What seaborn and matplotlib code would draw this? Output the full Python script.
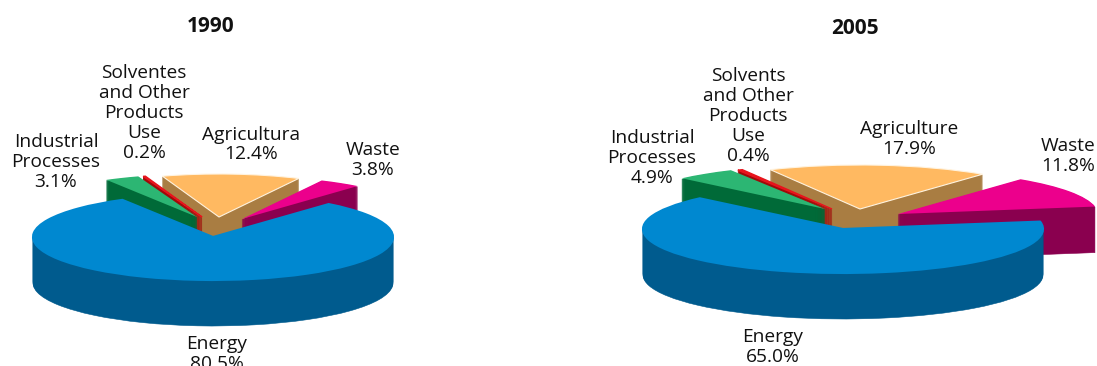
import matplotlib
matplotlib.use("Agg")
import matplotlib.pyplot as plt
from matplotlib.patches import Wedge
import seaborn as sns

# Emission shares in percent, listed counter-clockwise from the agriculture slice
sectors = ["Agriculture", "Solvents", "Industrial", "Energy", "Waste"]
shares_1990 = [12.4, 0.2, 3.1, 80.5, 3.8]
shares_2005 = [17.9, 0.4, 4.9, 65.0, 11.8]

labels_1990 = ["Agricultura\n12.4%", "Solventes\nand Other\nProducts\nUse\n0.2%",
               "Industrial\nProcesses\n3.1%", "Energy\n80.5%", "Waste\n3.8%"]
labels_2005 = ["Agriculture\n17.9%", "Solvents\nand Other\nProducts\nUse\n0.4%",
               "Industrial\nProcesses\n4.9%", "Energy\n65.0%", "Waste\n11.8%"]

top_colors = sns.color_palette(["#ffb961", "#e8141c", "#2cb673", "#0088d0", "#ec008c"])
side_colors = sns.color_palette(["#a97d42", "#a00a0a", "#006a38", "#005b8e", "#8a004f"])

W, H = 1097, 366
DEPTH = 46
DRAW_ORDER = [0, 1, 2, 4, 3]

sns.set_theme(style="white")
plt.rcParams["font.family"] = ["Open Sans", "DejaVu Sans"]
fig = plt.figure(figsize=(W / 100, H / 100), dpi=100, facecolor="white")


def tilted_pie(values, cx, cy, rx, ry, start, offsets):
    """Flattened pie with an extruded rim; each slice is pulled out by a pixel offset."""
    ax = fig.add_axes([0, 0, 1, 1], facecolor="none")
    wedges, _ = ax.pie(values, colors=top_colors, startangle=start, radius=1,
                       counterclock=True, wedgeprops={"linewidth": 0})
    ax.set_aspect("auto")
    ax.set_xlim(-cx / rx, (W - cx) / rx)
    ax.set_ylim(-(H - cy) / ry, cy / ry)
    ax.set_axis_off()
    z = 2
    for i in DRAW_ORDER:
        w = wedges[i]
        dx, dy = offsets[i]
        ox, oy = dx / rx, dy / ry
        for step in range(DEPTH, 0, -1):
            ax.add_patch(Wedge((ox, oy - step / ry), 1, w.theta1, w.theta2,
                               facecolor=side_colors[i], edgecolor=side_colors[i],
                               linewidth=0.4, zorder=z))
        w.set_center((ox, oy))
        w.set_zorder(z + 1)
        if i == 0:
            w.set_edgecolor("#fff3df")
            w.set_linewidth(0.8)
        if i == 1:
            w.set_edgecolor(top_colors[1])
            w.set_linewidth(1.0)
        if i == 3:
            # soften the energy slice's corners
            w.set_edgecolor(top_colors[3])
            w.set_linewidth(1.5)
            w.set_joinstyle("round")
        z += 2
    return ax


tilted_pie(shares_1990, 213, 237, 180, 43, 63.7,
           [(6, 20), (-11, 20), (-16, 20), (0, 0), (29, 18)])
tilted_pie(shares_2005, 843, 229, 200, 44, 52.2,
           [(17, 20), (-11, 20), (-18, 20), (0, 0), (55, 15)])


def put_text(px, py, text, **kw):
    fig.text(px / W, 1 - py / H, text, ha="center", va="center", color="#111111",
             multialignment="center", **kw)


for text, (px, py) in zip(labels_1990, [(251, 144.5), (144, 113), (56, 162), (217, 354), (373, 160)]):
    put_text(px, py, text, fontsize=13.8, linespacing=1.13)
for text, (px, py) in zip(labels_2005, [(909, 139), (748, 116), (652, 158), (773, 347), (1068, 156)]):
    put_text(px, py, text, fontsize=13.8, linespacing=1.13)

put_text(211, 26, "1990", fontsize=15, fontweight="bold")
put_text(855, 28, "2005", fontsize=15, fontweight="bold")

fig.savefig("out.png", dpi=100)
